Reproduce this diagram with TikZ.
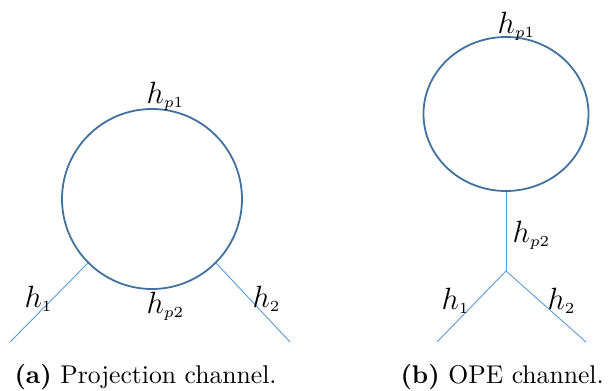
\documentclass[tikz,border=0pt]{standalone}
\usepackage{fontspec}
\usepackage{tikz}
\usetikzlibrary{shapes.geometric, positioning}
\definecolor{loopcol}{HTML}{41719C}
\definecolor{legcol}{HTML}{5B9BD5}
\newcommand{\px}{0.39pt}
\newcommand{\hlab}[1]{{\fontsize{13}{14}\selectfont$h_{\scriptscriptstyle #1}$}}

\begin{document}
\begin{tikzpicture}[x=\px, y=-\px,
    loop/.style={draw=loopcol, line width=0.7pt, inner sep=0pt},
    leg/.style={draw=legcol, line width=0.35pt},
    lab/.style={inner sep=0pt, anchor=base west},
    capt/.style={inner sep=0pt, anchor=base west, font=\normalsize}]
  \useasboundingbox (0,0) rectangle (611,391);
  % (a) Projection channel: loop with two legs
  \begin{scope}
    \node[loop, circle, minimum size=180*\px] (ringA) at (152,199) {};
    \coordinate (footA1) at (10,342);
    \coordinate (footA2) at (290,342);
    \draw[leg] (ringA.225) -- (footA1);
    \draw[leg] (ringA.-45) -- (footA2);
    \node[lab] (labAp1) at (146,103) {\hlab{p1}};
    \node[lab] (labAp2) at (146,313) {\hlab{p2}};
    \node[lab] (labA1) at (24,307) {\hlab{1}};
    \node[lab] (labA2) at (252,307) {\hlab{2}};
    \node[capt] (captA) at (14,383) {\textbf{(a)} Projection channel.};
  \end{scope}
  % (b) OPE channel: loop on a stem, then two legs
  \begin{scope}
    \node[loop, ellipse, minimum width=165*\px, minimum height=154*\px] (ringB) at (506,114) {};
    \coordinate (vertB) at (506,271);
    \coordinate (footB1) at (437,342);
    \coordinate (footB2) at (586,342);
    \draw[leg] (ringB.south) -- (vertB);
    \foreach \foot in {footB1, footB2}
      \draw[leg] (vertB) -- (\foot);
    \node[lab] (labBp1) at (497,33) {\hlab{p1}};
    \node[lab] (labBp2) at (512,242) {\hlab{p2}};
    \node[lab] (labB1) at (441,309) {\hlab{1}};
    \node[lab] (labB2) at (547,309) {\hlab{2}};
    \node[capt] (captB) at (400,383) {\textbf{(b)} OPE channel.};
  \end{scope}
\end{tikzpicture}
\end{document}
